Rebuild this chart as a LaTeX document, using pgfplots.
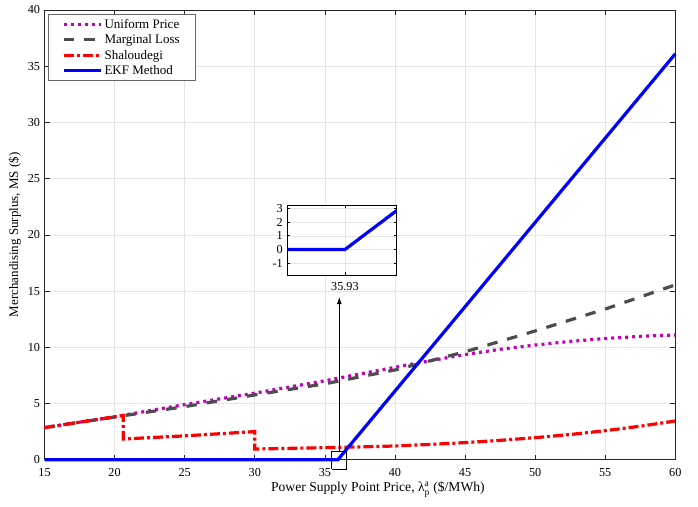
\documentclass[border=0pt]{standalone}
\usepackage{pgfplots}
\pgfplotsset{compat=1.18}
\usepackage{fontspec}
\setmainfont{Liberation Serif}
\usetikzlibrary{arrows.meta}
\definecolor{cMag}{RGB}{191,0,191}
\definecolor{cGray}{RGB}{77,77,77}
\definecolor{cRed}{RGB}{255,0,0}
\definecolor{cBlue}{RGB}{0,0,255}
\newcommand{\sm}[1]{\hbox{\fontsize{9.5}{10}\selectfont #1}}
\begin{document}
\begin{tikzpicture}
\path[use as bounding box] (-44.5pt,-46.3pt) rectangle (653.5pt,459.7pt);
\begin{axis}[
  name=main, scale only axis, width=630.8pt, height=449.7pt,
  xmin=15, xmax=60, ymin=0, ymax=40,
  xtick={15,20,...,60}, ytick={0,5,...,40},
  tick align=inside, major tick length=5pt,
  grid=major, major grid style={black!10, line width=0.6pt},
  axis line style={line width=0.7pt, black!85},
  every tick/.style={black!85, line width=0.7pt},
  tick label style={font=\fontsize{12.2}{14}\selectfont},
  xticklabel style={yshift=-5.3pt},
  yticklabel style={xshift=-1pt},
  label style={font=\fontsize{13}{15}\selectfont},
  xlabel style={yshift=2pt, xshift=18pt, font=\fontsize{13.6}{15}\selectfont},
  /pgf/number format/assume math mode=true,
  xlabel={Power Supply Point Price, λ$^{\sm{a}}_{\sm{p}}$ (\$/MWh)},
  ylabel={Merchandising Surplus, MS (\$)},
  clip=false,
  legend style={at={(0,1)}, anchor=north west, xshift=3.5pt, yshift=-4pt,
    draw=black!60, line width=0.7pt, fill=white,
    font=\fontsize{13}{15}\selectfont, inner xsep=14pt, inner ysep=2.5pt, row sep=1pt},
  legend cell align=left,
  legend image code/.code={\draw[#1] (0pt,0pt) -- (37pt,0pt);},
]
\addplot[cMag, line width=3.2pt, dash pattern=on 3pt off 4pt] coordinates {
(15,2.85)(20,3.82)(25,4.9)(30,5.92)(35,7.02)(40,8.22)(42.5,8.8)(45,9.35)(47.5,9.82)(50,10.2)(52.5,10.52)(55,10.78)(57.5,10.97)(60,11.1)};
\addlegendentry{Uniform Price}
\addplot[cGray, line width=3.2pt, dash pattern=on 10.5pt off 10pt] coordinates {
(15,2.85)(20,3.8)(25,4.72)(30,5.76)(35,6.75)(40,7.98)(45,9.6)(50,11.45)(55,13.4)(60,15.55)};
\addlegendentry{Marginal Loss}
\addplot[cRed, line width=3.2pt, dash pattern=on 10pt off 3pt on 3pt off 3pt] coordinates {
(15,2.85)(20,3.82)(20.62,3.93)(20.62,1.84)(25,2.12)(30,2.5)(30,0.95)(35,1.07)(37.5,1.14)(40,1.22)(42.5,1.36)(45,1.52)(47.5,1.72)(50,1.96)(52.5,2.24)(55,2.58)(57.5,2.98)(60,3.44)};
\addlegendentry{Shaloudegi}
\addplot[cBlue, line width=3.2pt] coordinates {(15,0)(35.93,0)(60,36.1)};
\addlegendentry{EKF Method}
\addplot[black, line width=0.8pt, forget plot] coordinates {(35.49,-0.85)(36.51,-0.85)(36.51,0.71)(35.49,0.71)(35.49,-0.85)};
\addplot[black, line width=0.8pt, -{Latex[length=7pt,width=5pt]}, forget plot] coordinates {(36.03,0.71)(36.03,14.47)};
\end{axis}
\begin{axis}[
  at={(242.8pt,184.7pt)}, anchor=south west, scale only axis,
  width=109.4pt, height=70pt,
  xmin=33.83, xmax=37.82, ymin=-1.85, ymax=3.24,
  xtick={35.93}, xticklabels={35.93}, ytick={-1,0,1,2,3},
  tick align=inside, major tick length=3pt,
  grid=major, major grid style={black!10, line width=0.6pt},
  axis line style={line width=0.8pt, black},
  every tick/.style={black, line width=0.7pt},
  tick label style={font=\fontsize{12.2}{14}\selectfont},
  xticklabel style={yshift=-4pt},
  yticklabel style={xshift=-1pt},
  /pgf/number format/assume math mode=true,
  axis background/.style={fill=white},
]
\addplot[cBlue, line width=3.2pt] coordinates {(33.83,0)(35.93,0)(37.82,2.835)};
\end{axis}
\end{tikzpicture}
\end{document}
